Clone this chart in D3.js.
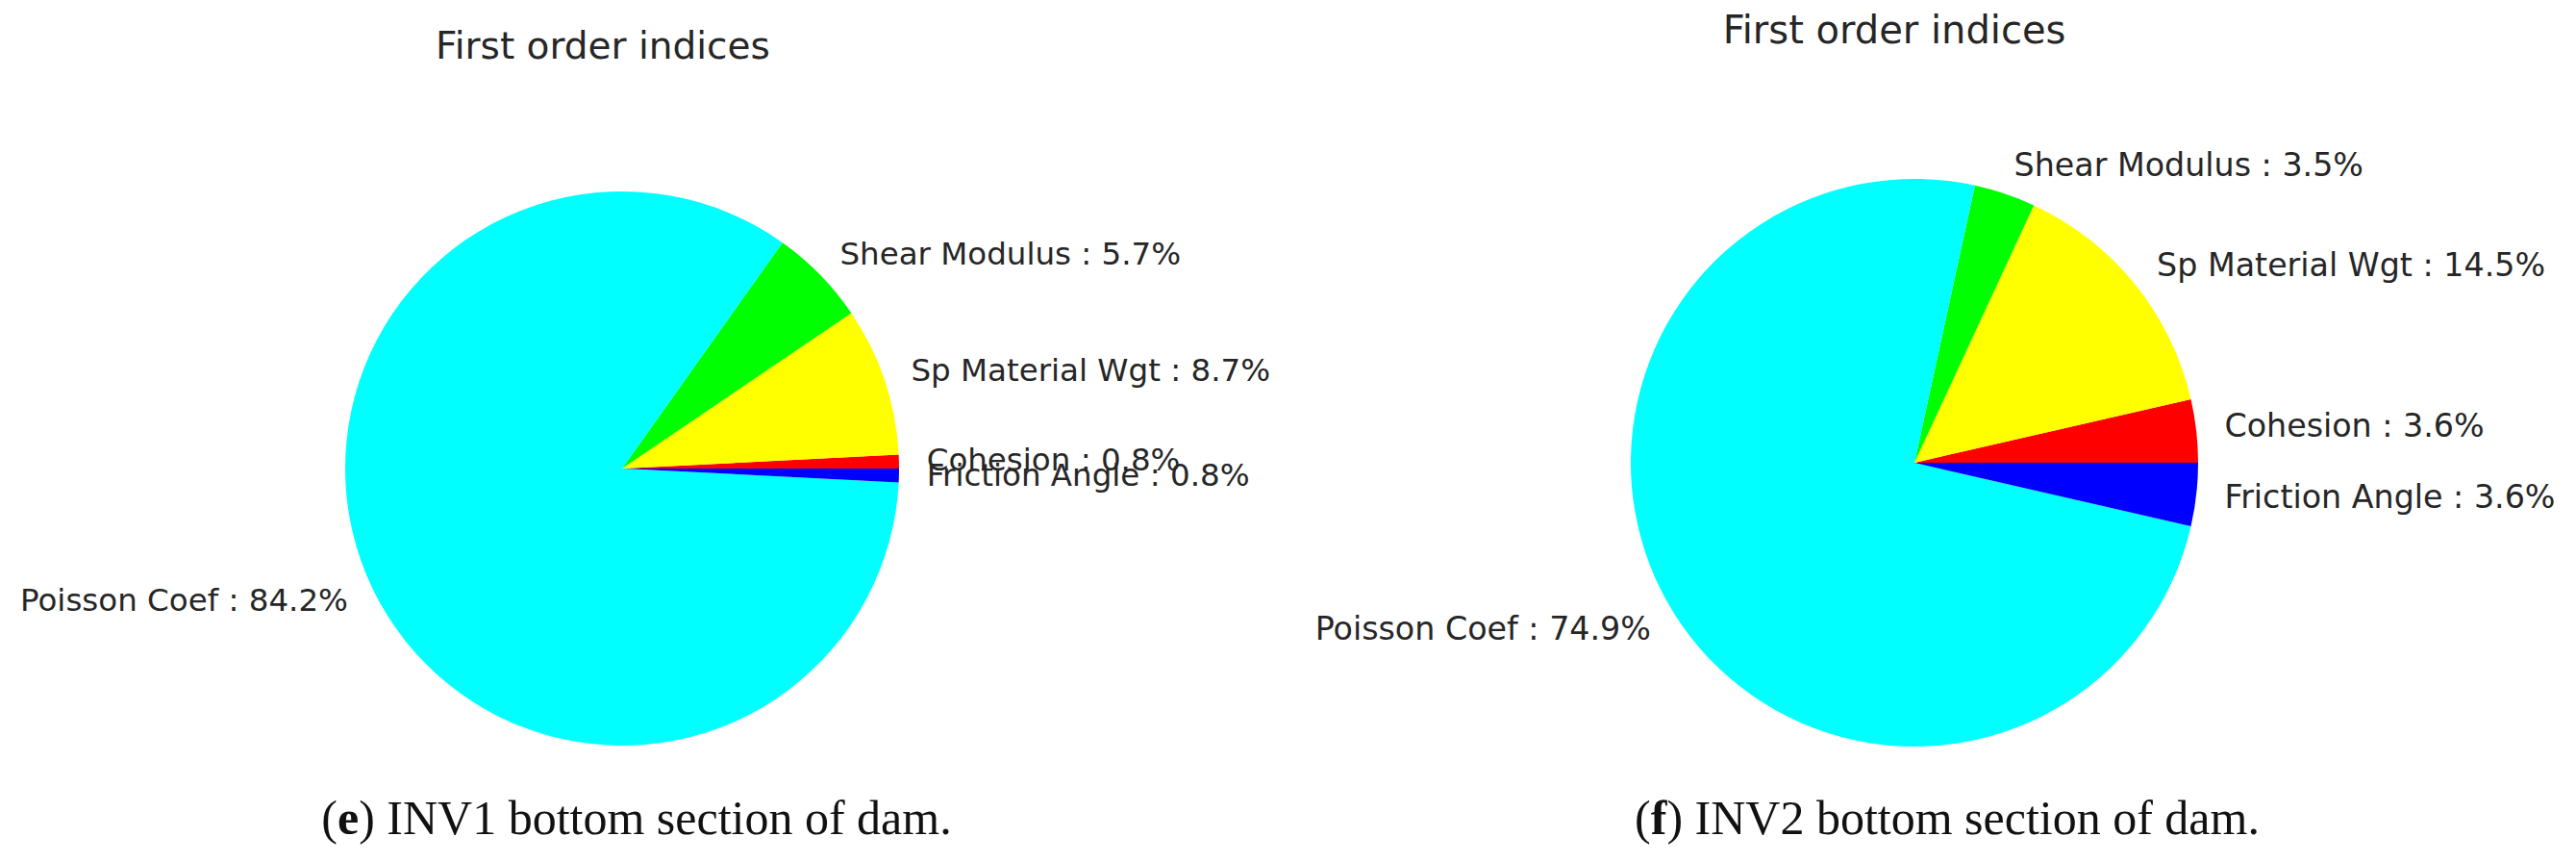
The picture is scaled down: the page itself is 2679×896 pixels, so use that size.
<!DOCTYPE html>
<html>
<head>
<meta charset="utf-8">
<script src="https://cdn.jsdelivr.net/npm/d3@7"></script>
<style>
    body { margin: 0; background: #fff; }
    .label { font-family: "DejaVu Sans", sans-serif; fill: #262626; }
    .title { font-family: "DejaVu Sans", sans-serif; fill: #262626; }
    .caption { font-family: "Liberation Serif", "DejaVu Serif", serif; fill: #111; }
</style>
</head>
<body>
<script>
//slice names, in drawing order (counter-clockwise from 3 o'clock)
var sliceNames = ["Cohesion", "Sp Material Wgt", "Shear Modulus", "Poisson Coef", "Friction Angle"];
var sliceColors = ["#ff0000", "#ffff00", "#00ff00", "#00ffff", "#0000ff"];

//first order indices (%) for each inversion
var inv1Values = [0.8, 8.7, 5.7, 84.2, 0.8];
var inv2Values = [3.6, 14.5, 3.5, 74.9, 3.6];

var chartTitles = ["First order indices", "First order indices"];
var captionTags = ["e", "f"];
var captionTexts = [" INV1 bottom section of dam.", " INV2 bottom section of dam."];

var width = 2679,
    height = 896;

var svg = d3.select("body")
    .append("svg")
    .attr("width", width)
    .attr("height", height);

//panel layout
var panels = [
    { values: inv1Values, cx: 647, cy: 487, r: 288, titleX: 627, titleY: 61, labelSize: 32.5, titleSize: 39, capX: 662, capY: 867 },
    { values: inv2Values, cx: 1991, cy: 481, r: 295, titleX: 1970, titleY: 45, labelSize: 33.3, titleSize: 40, capX: 2025, capY: 867 }
];

panels.forEach(function (p, i) {
    drawPie(p, i);
});

function drawPie(p, i) {
    var data = sliceNames.map(function (name, k) {
        return { name: name, value: p.values[k], color: sliceColors[k] };
    });

    //matplotlib style: start at 3 o'clock, go counter-clockwise
    var pie = d3.pie()
        .sort(null)
        .value(function (d) { return d.value; })
        .startAngle(Math.PI / 2)
        .endAngle(Math.PI / 2 - 2 * Math.PI);

    var arc = d3.arc()
        .innerRadius(0)
        .outerRadius(p.r);

    var arcs = pie(data);

    var g = svg.append("g")
        .attr("transform", "translate(" + p.cx + "," + p.cy + ")");

    g.selectAll(".slice")
        .data(arcs)
        .enter()
        .append("path")
        .attr("class", "slice")
        .attr("d", arc)
        .style("fill", function (d) { return d.data.color; });

    //labels sit at 1.1 * radius on the mid angle
    g.selectAll(".label")
        .data(arcs)
        .enter()
        .append("text")
        .attr("class", "label")
        .attr("x", function (d) {
            var m = (d.startAngle + d.endAngle) / 2;
            return 1.1 * p.r * Math.sin(m);
        })
        .attr("y", function (d) {
            var m = (d.startAngle + d.endAngle) / 2;
            return -1.1 * p.r * Math.cos(m);
        })
        .attr("dy", "0.3em")
        .attr("text-anchor", function (d) {
            var m = (d.startAngle + d.endAngle) / 2;
            return Math.sin(m) >= 0 ? "start" : "end";
        })
        .style("font-size", p.labelSize + "px")
        .text(function (d) {
            return d.data.name + " : " + d.data.value.toFixed(1) + "%";
        });

    svg.append("text")
        .attr("class", "title")
        .attr("x", p.titleX)
        .attr("y", p.titleY)
        .attr("text-anchor", "middle")
        .style("font-size", p.titleSize + "px")
        .text(chartTitles[i]);

    var cap = svg.append("text")
        .attr("class", "caption")
        .attr("x", p.capX)
        .attr("y", p.capY)
        .attr("text-anchor", "middle")
        .style("font-size", "50px");
    cap.append("tspan").text("(");
    cap.append("tspan").style("font-weight", "bold").text(captionTags[i]);
    cap.append("tspan").text(")" + captionTexts[i]);
}
</script>
</body>
</html>
